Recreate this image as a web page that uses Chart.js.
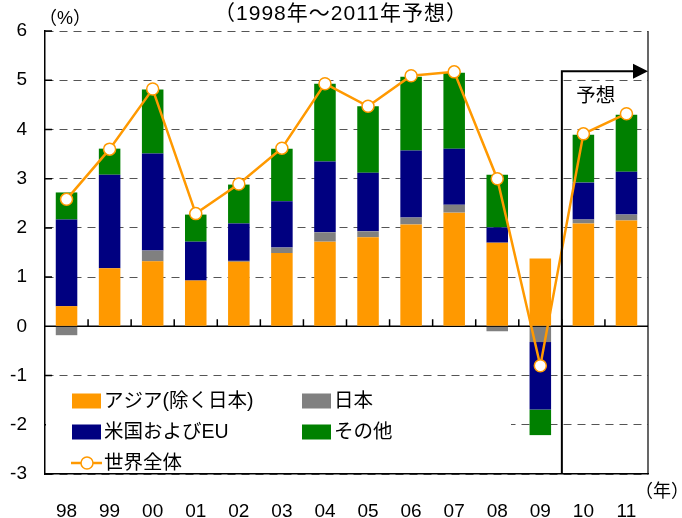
<!DOCTYPE html>
<html>
<head>
<meta charset="utf-8">
<script src="https://cdn.jsdelivr.net/npm/chart.js@4"></script>
<style>
  body { margin: 0; background: #fff; }
  canvas { display: block; }
</style>
</head>
<body>
<canvas id="growthChart" width="682" height="518"></canvas>
<script>
const years = ['98', '99', '00', '01', '02', '03', '04', '05', '06', '07', '08', '09', '10', '11'];
const asia = [0.41, 1.18, 1.32, 0.93, 1.31, 1.49, 1.72, 1.81, 2.07, 2.31, 1.70, 1.38, 2.09, 2.15];
const japan = [-0.18, 0, 0.22, 0, 0.02, 0.11, 0.19, 0.12, 0.14, 0.16, -0.10, -0.32, 0.08, 0.12];
const usEu = [1.76, 1.90, 1.97, 0.79, 0.76, 0.94, 1.44, 1.19, 1.36, 1.14, 0.31, -1.37, 0.75, 0.87];
const others = [0.55, 0.53, 1.30, 0.55, 0.79, 1.07, 1.58, 1.35, 1.50, 1.54, 1.07, -0.52, 0.97, 1.16];
const world = [2.58, 3.60, 4.82, 2.29, 2.89, 3.62, 4.93, 4.47, 5.09, 5.17, 3.00, -0.80, 3.91, 4.32];

const FONT = "'Liberation Sans', 'Noto Sans CJK JP', sans-serif";
const ORANGE = '#FF9900';
const legendItems = [
  { label: 'アジア(除く日本)', color: ORANGE, col: 0, row: 0 },
  { label: '日本', color: '#808080', col: 1, row: 0 },
  { label: '米国およびEU', color: '#000080', col: 0, row: 1 },
  { label: 'その他', color: '#008000', col: 1, row: 1 },
  { label: '世界全体', color: ORANGE, col: 0, row: 2, line: true }
];

// extra drawing: zero line, ticks, frame, forecast arrow, legend, texts
const decorations = {
  id: 'decorations',
  beforeDatasetsDraw(chart) {
    const { ctx, chartArea: a, scales: { x, y } } = chart;
    ctx.save();
    ctx.strokeStyle = '#000';
    ctx.lineWidth = 1.5;
    const y0 = y.getPixelForValue(0);
    ctx.beginPath();
    ctx.moveTo(a.left, y0);
    ctx.lineTo(a.right, y0);
    // small tick marks between categories
    for (let i = 1; i < years.length; i++) {
      const bx = (x.getPixelForValue(i - 1) + x.getPixelForValue(i)) / 2;
      ctx.moveTo(bx, y0);
      ctx.lineTo(bx, y0 - 7);
    }
    // inward ticks on the left axis
    for (let v = -3; v <= 6; v++) {
      const py = y.getPixelForValue(v);
      ctx.moveTo(a.left, py);
      ctx.lineTo(a.left + 7, py);
    }
    ctx.stroke();
    // right frame line
    ctx.beginPath();
    ctx.lineWidth = 1.2;
    ctx.moveTo(a.right, a.top);
    ctx.lineTo(a.right, a.bottom);
    ctx.stroke();
    ctx.restore();
  },
  afterDatasetsDraw(chart) {
    const { ctx, chartArea: a, scales: { x, y } } = chart;
    ctx.save();

    // forecast marker
    const fx = (x.getPixelForValue(11) + x.getPixelForValue(12)) / 2;
    const fy = y.getPixelForValue(5.18);
    ctx.strokeStyle = '#000';
    ctx.lineWidth = 2;
    ctx.beginPath();
    ctx.moveTo(fx, a.bottom);
    ctx.lineTo(fx, fy);
    ctx.lineTo(a.right - 14, fy);
    ctx.stroke();
    ctx.fillStyle = '#000';
    ctx.beginPath();
    ctx.moveTo(a.right - 15, fy - 7.5);
    ctx.lineTo(a.right, fy);
    ctx.lineTo(a.right - 15, fy + 7.5);
    ctx.closePath();
    ctx.fill();
    ctx.font = '19.5px ' + FONT;
    ctx.textAlign = 'center';
    ctx.textBaseline = 'middle';
    ctx.fillText('予想', fx + 34, fy + 25);

    // legend inside the plot
    ctx.fillStyle = '#fff';
    ctx.fillRect(a.left + 1, y.getPixelForValue(-1.1), 465, y.getPixelForValue(-2.95) - y.getPixelForValue(-1.1));
    ctx.font = '19.5px ' + FONT;
    ctx.textAlign = 'left';
    legendItems.forEach(it => {
      const lx = a.left + 27 + it.col * 230;
      const ly = 401 + it.row * 31;
      if (it.line) {
        ctx.strokeStyle = it.color;
        ctx.lineWidth = 2.5;
        ctx.beginPath();
        ctx.moveTo(lx - 1, ly);
        ctx.lineTo(lx + 30, ly);
        ctx.stroke();
        ctx.fillStyle = '#fff';
        ctx.lineWidth = 1.5;
        ctx.beginPath();
        ctx.arc(lx + 15, ly, 6, 0, Math.PI * 2);
        ctx.fill();
        ctx.stroke();
      } else {
        ctx.fillStyle = it.color;
        ctx.fillRect(lx, ly - 7.5, 29, 15);
      }
      ctx.fillStyle = '#000';
      ctx.fillText(it.label, lx + 32, ly + 1);
    });

    // titles and units
    ctx.font = '21px ' + FONT;
    ctx.textAlign = 'center';
    ctx.letterSpacing = '1px';
    ctx.fillText('（1998年～2011年予想）', 341, 14);
    ctx.letterSpacing = '0px';
    ctx.font = '18px ' + FONT;
    ctx.fillText('（%）', 65, 19);
    ctx.fillText('（年）', 662, 492);
    ctx.restore();
  }
};

new Chart(document.getElementById('growthChart'), {
  data: {
    labels: years,
    datasets: [
      { type: 'line', label: '世界全体', data: world, order: 0, stack: 'world',
        borderColor: ORANGE, borderWidth: 2.5, pointRadius: 6, pointBorderWidth: 1.5,
        pointBackgroundColor: '#fff', pointBorderColor: ORANGE, tension: 0 },
      { type: 'bar', label: 'アジア(除く日本)', data: asia, backgroundColor: ORANGE, order: 1 },
      { type: 'bar', label: '日本', data: japan, backgroundColor: '#808080', order: 1 },
      { type: 'bar', label: '米国およびEU', data: usEu, backgroundColor: '#000080', order: 1 },
      { type: 'bar', label: 'その他', data: others, backgroundColor: '#008000', order: 1 }
    ]
  },
  options: {
    responsive: false,
    animation: false,
    layout: { padding: { top: 31, right: 34, left: 0, bottom: 0 } },
    datasets: { bar: { barPercentage: 0.5, categoryPercentage: 1 } },
    plugins: { legend: { display: false }, tooltip: { enabled: false } },
    scales: {
      x: {
        stacked: true,
        grid: { display: false, drawTicks: false },
        border: { color: '#000', width: 1.5 },
        ticks: { color: '#000', font: { family: FONT, size: 19 }, padding: 26, maxRotation: 0 },
        afterFit(scale) { scale.height = 44; }
      },
      y: {
        stacked: true,
        min: -3,
        max: 6,
        grid: {
          drawTicks: false,
          color: ctx => ctx.tick && ctx.tick.value === 0 ? 'rgba(0,0,0,0)' : '#555',
          lineWidth: 1
        },
        border: { color: '#000', width: 1.5, dash: [8, 6] },
        ticks: { stepSize: 1, color: '#000', font: { family: FONT, size: 19 }, padding: 18 },
        afterFit(scale) { scale.width = 45; }
      }
    }
  },
  plugins: [decorations]
});
</script>
</body>
</html>
